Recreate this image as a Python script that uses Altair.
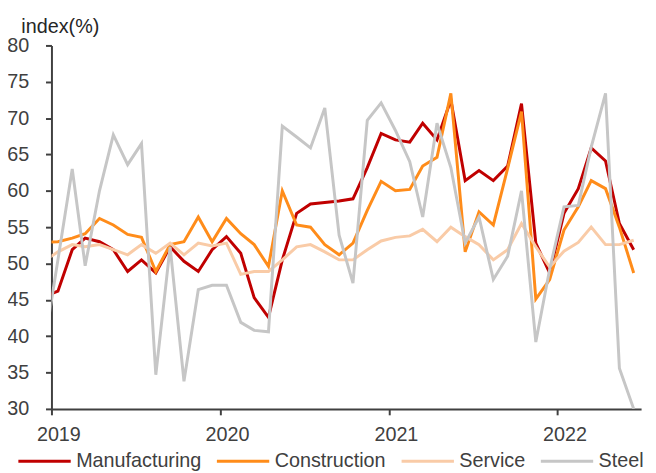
import altair as alt
import pandas as pd

# Monthly values, Dec 2018 .. Jun 2022 (Dec 2018 only shows as the clipped start of each line)
months = pd.date_range("2018-12-01", periods=43, freq="MS") + pd.Timedelta(days=14)
month_labels = [d.strftime("%Y-%m-%dT00:00:00") for d in months]

manufacturing = [45.4, 46.2, 51.9, 53.5, 53.0, 51.9, 48.9, 50.5, 48.7, 52.3, 50.3, 48.9, 51.9,
                 53.7, 51.4, 45.3, 42.6, 50.5, 56.9, 58.2, 58.4, 58.6, 58.9, 63.2, 67.9,
                 67.0, 66.7, 69.3, 67.0, 72.5, 61.4, 62.8, 61.4, 63.4, 72.0, 52.8, 48.7,
                 56.9, 60.3, 65.9, 64.1, 55.5, 51.9]
construction = [52.9, 53.0, 53.5, 54.1, 56.2, 55.3, 54.0, 53.6, 48.9, 52.6, 53.0, 56.4, 53.0,
                56.2, 54.1, 52.6, 49.6, 60.0, 55.3, 55.0, 52.6, 51.2, 52.8, 57.3, 61.3,
                60.0, 60.2, 63.4, 64.6, 73.4, 51.6, 57.1, 55.3, 63.1, 70.9, 45.1, 47.8,
                54.6, 57.8, 61.4, 60.3, 55.0, 48.7]
service = [50.3, 51.6, 52.6, 52.3, 52.6, 51.9, 51.2, 52.6, 51.4, 52.8, 51.2, 52.8, 52.4,
           52.8, 48.5, 48.9, 48.9, 50.5, 52.3, 52.6, 51.6, 50.5, 50.5, 51.9, 53.1,
           53.6, 53.8, 54.7, 53.0, 55.0, 53.7, 52.6, 50.5, 51.9, 55.5, 52.3, 49.5,
           51.7, 52.9, 55.0, 52.6, 52.6, 53.2]
steel = [38.1, 50.5, 63.0, 49.7, 60.0, 67.7, 63.6, 66.5, 34.7, 52.3, 33.8, 46.4, 47.0,
         47.0, 41.9, 40.8, 40.6, 68.9, 67.4, 65.9, 71.4, 53.9, 47.3, 69.7, 72.1,
         68.3, 64.0, 56.4, 69.3, 63.2, 52.8, 56.4, 47.8, 51.0, 60.0, 39.2, 49.2,
         57.8, 58.0, 66.0, 73.4, 35.6, 30.0]

series_names = ["Manufacturing", "Construction", "Service", "Steel"]
series_values = [manufacturing, construction, service, steel]
series_colors = ["#C00000", "#FF8C1A", "#F9CBA7", "#C6C6C6"]
y_ticks = [30, 35, 40, 45, 50, 55, 60, 65, 70, 75, 80]
x_ticks = [2019, 2020, 2021, 2022]

rows = []
for order, (name, vals) in enumerate(zip(series_names, series_values)):
    for m, v in zip(month_labels, vals):
        rows.append({"date": m, "value": v, "series": name, "order": order})
df = pd.DataFrame(rows)

font = "Liberation Sans"
axis_color = "#404040"

chart = alt.Chart(df).mark_line(strokeWidth=3, clip=True).encode(
    x=alt.X(
        "date:T",
        scale=alt.Scale(domain=[alt.DateTime(year=2019, month=1, date=1),
                                alt.DateTime(year=2022, month=7, date=1)]),
        axis=alt.Axis(
            title=None,
            values=[alt.DateTime(year=y, month=1, date=1) for y in x_ticks],
            format="%Y", grid=False, labelFlush=False,
            domainColor=axis_color, domainWidth=2,
            tickColor=axis_color, tickWidth=2, tickSize=6,
            labelFont=font, labelFontSize=20, labelColor=axis_color,
            labelPadding=10, labelOffset=7,
        ),
    ),
    y=alt.Y(
        "value:Q",
        scale=alt.Scale(domain=[30, 80], nice=False, zero=False),
        axis=alt.Axis(
            values=y_ticks, grid=False,
            domainColor=axis_color, domainWidth=2,
            tickColor=axis_color, tickWidth=2, tickSize=6,
            labelFont=font, labelFontSize=20, labelColor=axis_color,
            labelPadding=17,
            title="index(%)", titleAngle=0, titleAlign="left",
            titleBaseline="alphabetic", titleX=-31, titleY=-13,
            titleFont=font, titleFontSize=20, titleFontWeight="normal",
            titleColor="#262626",
        ),
    ),
    color=alt.Color(
        "series:N",
        scale=alt.Scale(domain=series_names, range=series_colors),
        sort=series_names,
        legend=alt.Legend(
            title=None, orient="none", direction="horizontal",
            legendX=-35, legendY=393,
            symbolType="stroke", symbolSize=2809, symbolStrokeWidth=3,
            labelFont=font, labelFontSize=20, labelColor=axis_color,
            labelOffset=4, columnPadding=9, labelLimit=300,
        ),
    ),
    order=alt.Order("order:Q"),
    detail="series:N",
).properties(
    width=597,
    height=368,
    autosize=alt.AutoSizeParams(type="none"),
    padding={"left": 44, "top": 35, "right": 7, "bottom": 62},
).configure_view(stroke=None)

chart.save("out.html", embed_options={"renderer": "svg", "actions": False})
